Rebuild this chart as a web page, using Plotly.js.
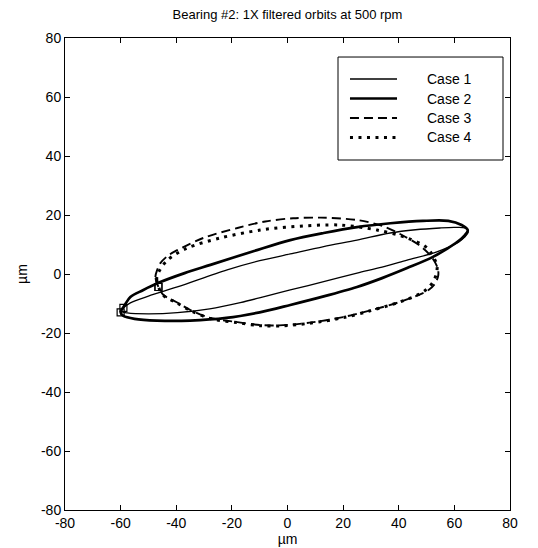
<!DOCTYPE html>
<html>
<head>
<meta charset="utf-8">
<script src="https://cdn.plot.ly/plotly-3.0.1.min.js"></script>
<style>html,body{margin:0;padding:0;background:#fff;}#chart{width:538px;height:548px;}</style>
</head>
<body>
<div id="chart"></div>
<script>
// Axis tick values and labels
const tickValues = [-80, -60, -40, -20, 0, 20, 40, 60, 80];
const tickLabels = ['-80', '-60', '-40', '-20', '0', '20', '40', '60', '80'];

// Case 1 (thin solid) - orbit points in µm
const case1X = [-59.0, -56.5, -50.0, -39.6, -21.7, -10.0, 1.0, 13.0, 25.0, 36.9, 46.0, 54.8, 60.0, 63.8, 65.0, 63.6, 61.5, 53.7, 43.0, 34.0, 25.0, 13.0, 1.0, -8.0, -17.0, -28.0, -39.6, -50.0, -57.6, -60.0, -59.0];
const case1Y = [-11.5, -9.8, -7.5, -4.4, 1.4, 4.5, 6.8, 9.3, 11.5, 13.9, 15.0, 15.6, 15.8, 15.6, 14.3, 12.4, 10.8, 7.5, 4.7, 2.3, 0.3, -2.6, -5.4, -7.6, -9.7, -11.8, -13.1, -13.5, -13.2, -12.6, -11.5];
// Case 2 (thick solid)
const case2X = [-60.0, -58.5, -56.5, -52.0, -46.4, -37.0, -27.7, -12.0, 1.0, 13.0, 25.0, 37.0, 48.7, 57.8, 62.6, 64.8, 63.8, 60.5, 52.3, 43.0, 34.0, 25.0, 13.0, 1.0, -10.0, -22.0, -35.0, -47.0, -55.0, -59.0, -60.0];
const case2Y = [-13.0, -10.5, -7.8, -5.5, -3.0, 0.3, 3.1, 7.8, 11.5, 13.9, 15.9, 17.2, 18.0, 18.0, 16.6, 14.9, 13.2, 10.5, 5.8, 2.0, -1.4, -4.4, -7.6, -10.5, -13.0, -14.9, -15.8, -15.8, -15.2, -14.2, -13.0];
// Case 3 (dashed)
const case3X = [-46.4, -47.5, -46.8, -45.7, -43.0, -39.6, -30.3, -18.0, -8.0, 2.0, 12.0, 25.0, 34.4, 41.0, 47.3, 51.8, 54.0, 54.2, 53.0, 50.5, 47.0, 40.0, 30.0, 20.0, 8.0, -3.0, -10.0, -18.0, -27.7, -34.9, -40.0, -44.6, -46.4];
const case3Y = [-4.4, -1.0, 1.5, 3.7, 6.2, 8.1, 12.2, 15.6, 17.8, 18.9, 19.1, 18.3, 16.2, 13.3, 9.8, 5.8, 2.0, -0.5, -3.3, -5.6, -7.2, -9.6, -12.3, -14.6, -16.5, -17.4, -17.3, -16.3, -14.9, -12.2, -9.5, -7.1, -4.4];
// Case 4 (dotted)
const case4X = [-46.4, -47.0, -46.8, -43.2, -36.0, -24.2, -9.8, 1.0, 18.9, 32.2, 43.0, 50.2, 53.7, 53.5, 52.3, 50.0, 47.0, 40.0, 30.0, 20.0, 8.0, -3.0, -10.0, -18.0, -27.7, -34.9, -40.0, -44.6, -46.4];
const case4Y = [-4.4, -2.0, -0.3, 4.7, 8.8, 12.2, 14.9, 16.0, 16.6, 14.9, 12.2, 8.8, 3.0, 0.0, -2.7, -5.2, -7.0, -9.6, -12.4, -14.8, -16.7, -17.6, -17.5, -16.5, -15.1, -12.4, -9.7, -7.3, -4.4];

const names = ['Case 1', 'Case 2', 'Case 3', 'Case 4'];
const xs = [case1X, case2X, case3X, case4X];
const ys = [case1Y, case2Y, case3Y, case4Y];
const lines = [
  {color: '#000', width: 1.3},
  {color: '#000', width: 2.7},
  {color: '#000', width: 1.9, dash: '9px,5px'},
  {color: '#000', width: 3, dash: '3px,5.5px'}
];

const traces = names.map((n, i) => ({
  type: 'scatter', mode: 'lines', name: n, showlegend: false,
  x: xs[i], y: ys[i],
  line: Object.assign({shape: 'spline', smoothing: 0.9}, lines[i]),
  hoverinfo: 'skip'
}));
traces.push({
  type: 'scatter', mode: 'markers', showlegend: false,
  x: xs.map(a => a[0]), y: ys.map(a => a[0]),
  marker: {symbol: 'square-open', size: 7, color: '#000', line: {width: 1.2, color: '#000'}},
  hoverinfo: 'skip'
});

// Legend drawn as a boxed key (paper coordinates)
const L = {x0: 0.6135, x1: 0.9843, y0: 0.7415, y1: 0.9597, sx0: 0.6404, sx1: 0.7461, tx: 0.809,
           rows: [0.9131, 0.8718, 0.8305, 0.7892]};
const shapes = [{type: 'rect', xref: 'paper', yref: 'paper', x0: L.x0, x1: L.x1, y0: L.y0, y1: L.y1,
                 line: {color: '#000', width: 1}, fillcolor: '#fff', layer: 'above'}];
const annotations = [];
names.forEach((n, i) => {
  shapes.push({type: 'line', xref: 'paper', yref: 'paper', x0: L.sx0, x1: L.sx1, y0: L.rows[i], y1: L.rows[i],
               line: Object.assign({}, lines[i]), layer: 'above'});
  annotations.push({xref: 'paper', yref: 'paper', x: L.tx, y: L.rows[i], xanchor: 'left', yanchor: 'middle',
                    text: n, showarrow: false, font: {size: 14, color: '#000'}});
});

const axisCommon = {
  range: [-80, 80], tickmode: 'array', tickvals: tickValues, ticktext: tickLabels,
  ticks: 'inside', ticklen: 5, tickwidth: 1, tickcolor: '#000',
  showline: true, linecolor: '#000', linewidth: 1, mirror: 'ticks',
  showgrid: false, zeroline: false,
  tickfont: {family: 'Liberation Sans, Arial, sans-serif', size: 14, color: '#000'}
};

const layout = {
  width: 538, height: 548,
  margin: {l: 65, r: 28, t: 38, b: 38},
  paper_bgcolor: '#fff', plot_bgcolor: '#fff',
  font: {family: 'Liberation Sans, Arial, sans-serif', color: '#000'},
  title: {text: 'Bearing #2: 1X filtered orbits at 500 rpm', font: {size: 13, color: '#000'},
          x: 0.5, xref: 'paper', xanchor: 'center', y: 1 - 14 / 548, yref: 'container', yanchor: 'middle'},
  xaxis: Object.assign({}, axisCommon, {title: {text: 'µm', font: {size: 14}, standoff: 4}}),
  yaxis: Object.assign({}, axisCommon, {title: {text: 'µm', font: {size: 14}, standoff: 10}}),
  showlegend: false,
  shapes: shapes,
  annotations: annotations
};

Plotly.newPlot('chart', traces, layout, {displayModeBar: false, staticPlot: true});
</script>
</body>
</html>
